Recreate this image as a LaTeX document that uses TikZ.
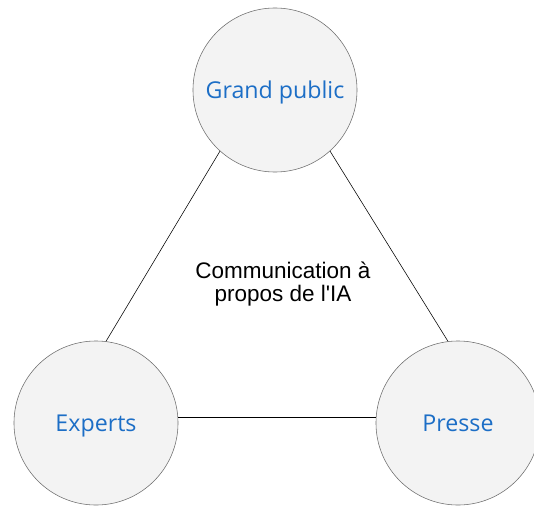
\documentclass[tikz,border=0pt]{standalone}
\usepackage{fontspec}
\setmainfont{Liberation Sans}
\newfontfamily\labelfont{Open Sans}
\definecolor{txtblue}{HTML}{1C6EC6}
\definecolor{circfill}{HTML}{F3F3F3}
\definecolor{circline}{HTML}{6E6E6E}
\newcommand{\straightquote}{\XeTeXglyph\the\XeTeXglyphindex "quotesingle"\relax}
\begin{document}
\begin{tikzpicture}[x=0.025cm, y=-0.025cm, main/.style = {draw=circline, fill=circfill, circle, minimum size=4.1cm, inner sep=0pt, text depth=0pt, text=txtblue, font=\labelfont\fontsize{16.5}{18}\selectfont}]
        \useasboundingbox (0, 0) rectangle (534, 507);

        \node[main] (public) at (275, 90) {Grand public};
        \node[main] (experts) at (96, 423) {Experts};
        \node[main] (presse) at (458, 423) {Presse};

        \node[align=center, font=\fontsize{16}{16}\selectfont] (theme) at (283, 284) {Communication à\\propos de l\straightquote IA};

        \draw (public.228) -- (experts.83);
        \draw (public.312) -- (presse.97);
        \draw (experts.4) -- (presse.176);
    \end{tikzpicture}
\end{document}
